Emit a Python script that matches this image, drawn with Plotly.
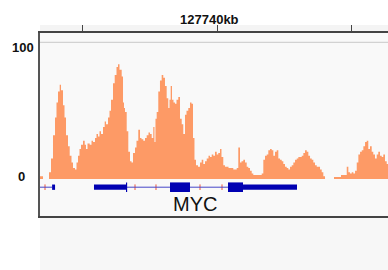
import plotly.graph_objects as go

# ---------------- data ----------------
# coverage track (genomic position in kb, read depth)
cov_pos_kb = [
    733.420, 733.532, 733.755, 733.829, 733.903, 733.978, 734.033, 734.089, 734.152, 734.201,
    734.275, 734.331, 734.387, 734.461, 734.524, 734.591, 734.647, 734.721, 734.777, 734.833,
    734.888, 734.944, 735.019, 735.082, 735.130, 735.186, 735.268, 735.335, 735.390, 735.465,
    735.520, 735.576, 735.632, 735.688, 735.762, 735.825, 735.874, 735.948, 736.004, 736.059,
    736.134, 736.197, 736.264, 736.320, 736.375, 736.457, 736.506, 736.543, 736.580, 736.643,
    736.703, 736.766, 736.821, 736.877, 736.952, 737.007, 737.074, 737.138, 737.193, 737.260,
    737.323, 737.386, 737.453, 737.509, 737.572, 737.631, 737.676, 737.713, 737.758, 737.817,
    737.880, 737.943, 738.003, 738.066, 738.129, 738.189, 738.234, 738.278, 738.327, 738.383,
    738.438, 738.494, 738.561, 738.625, 738.688, 738.747, 738.810, 738.866, 738.933, 738.996,
    739.052, 739.108, 739.163, 739.219, 739.293, 739.368, 739.431, 739.490, 739.554, 739.617,
    739.684, 739.740, 739.803, 739.862, 739.925, 739.989, 740.048, 740.112, 740.167, 740.234,
    740.297, 740.361, 740.428, 740.484, 740.547, 740.606, 740.669, 740.733, 740.792, 740.855,
    740.911, 740.978, 741.041, 741.104, 741.164, 741.227, 741.290, 741.350, 741.413, 741.476,
    741.536, 741.599, 741.662, 741.722, 741.785, 741.848, 741.908, 741.971, 742.034, 742.094,
    742.157, 742.220, 742.280, 742.343, 742.406, 742.466, 742.529, 742.592, 742.652, 742.715,
    742.778, 742.838, 742.901, 742.964, 743.024, 743.087, 743.150, 743.210, 743.273, 743.336,
    743.396, 743.459, 743.522, 743.581, 743.644, 743.708, 743.767, 743.830, 743.893, 743.953,
    744.016, 744.350, 744.610, 744.760, 744.823, 744.883, 744.946, 745.009, 745.069, 745.132,
    745.195, 745.255, 745.318, 745.381, 745.441, 745.504, 745.565, 745.625, 745.688, 745.751,
    745.810, 745.874, 745.937, 745.996, 746.060, 746.123, 746.182, 746.245, 746.309, 746.357,
]
cov_val = [
    2, 0, 5, 15, 32, 45, 56, 64, 69, 65,
    54, 45, 32, 24, 17, 12, 8, 7, 12, 17,
    22, 25, 28, 25, 22, 26, 25, 28, 27, 30,
    33, 31, 35, 33, 38, 42, 40, 45, 50, 58,
    70, 76, 82, 84, 80, 75, 56, 52, 49, 35,
    20, 13, 12, 19, 23, 28, 36, 30, 29, 28,
    30, 32, 34, 33, 30, 38, 27, 44, 49, 64,
    72, 76, 74, 68, 59, 52, 58, 68, 58, 56,
    55, 58, 60, 44, 40, 33, 47, 50, 52, 56,
    55, 30, 14, 10, 9, 12, 14, 11, 13, 15,
    17, 16, 18, 17, 20, 18, 19, 22, 16, 10,
    9, 9, 8, 8, 8, 7, 7, 8, 23, 12,
    13, 14, 12, 9, 8, 6, 4, 3, 3, 3,
    3, 3, 4, 14, 17, 18, 21, 22, 21, 17,
    20, 21, 15, 14, 13, 11, 9, 8, 7, 9,
    10, 12, 14, 15, 16, 16, 17, 19, 21, 20,
    17, 15, 14, 12, 10, 9, 9, 7, 5, 2,
    0, 1.5, 3, 3, 9, 5, 4, 5, 4, 6,
    12, 18, 20, 21, 24, 27, 28, 22, 24, 20,
    18, 15, 18, 20, 17, 16, 18, 13, 11, 9,
]
chrom_base_kb = 127000

# gene annotation (kb)
intron_start_kb = [127733.420, 127735.427]
intron_end_kb = [127733.870, 127742.974]
utr_start_kb = [127733.870, 127735.427, 127740.967]
utr_end_kb = [127733.980, 127736.617, 127742.974]
cds_start_kb = [127736.617, 127738.253, 127740.409]
cds_end_kb = [127736.660, 127738.996, 127740.967]
strand_mark_kb = [127733.606, 127736.952, 127737.732, 127739.368, 127740.186]
gene_name = "MYC"
gene_label_kb = 127739.18

ruler_ticks_kb = [127735, 127740, 127745]
ruler_label = "127740kb"
data_range_labels = ["100", "0"]

# ---------------- figure ----------------
x_range = [127733.420, 127746.357]
y_range = [-27.07, 106.8]
gene_y = -6.0
utr_half = 1.95
cds_half = 3.5

cov_color = "#fd9a66"
gene_color = "#0000b2"
intron_color = "#4646c8"

x_kb = [chrom_base_kb + p for p in cov_pos_kb]

fig = go.Figure()
fig.add_trace(go.Scatter(
    x=x_kb, y=cov_val, mode="lines", line=dict(width=0, shape="hv", color=cov_color),
    fill="tozeroy", fillcolor=cov_color, hoverinfo="skip", showlegend=False,
))

shapes = []
# background panels outside plot
shapes.append(dict(type="rect", xref="paper", yref="paper", x0=0, x1=1.02,
                   y0=-54 / 183, y1=0, fillcolor="#f7f7f7", line=dict(width=0), layer="below"))
shapes.append(dict(type="rect", xref="paper", yref="paper", x0=0, x1=1.02,
                   y0=1, y1=1 + 8 / 183, fillcolor="#f4f4f4", line=dict(width=0), layer="below"))
# data range top line
shapes.append(dict(type="line", xref="paper", yref="y", x0=0, x1=1, y0=100, y1=100,
                   line=dict(color="#c8c8c8", width=1)))
# introns
for a, b in zip(intron_start_kb, intron_end_kb):
    shapes.append(dict(type="line", xref="x", yref="y", x0=a, x1=b, y0=gene_y, y1=gene_y,
                       line=dict(color=intron_color, width=1)))
for a, b in zip(utr_start_kb, utr_end_kb):
    shapes.append(dict(type="rect", xref="x", yref="y", x0=a, x1=b,
                       y0=gene_y - utr_half, y1=gene_y + utr_half,
                       fillcolor=gene_color, line=dict(width=0)))
for a, b in zip(cds_start_kb, cds_end_kb):
    shapes.append(dict(type="rect", xref="x", yref="y", x0=a, x1=b,
                       y0=gene_y - cds_half, y1=gene_y + cds_half,
                       fillcolor=gene_color, line=dict(width=0)))

fig.add_trace(go.Scatter(
    x=strand_mark_kb, y=[gene_y] * len(strand_mark_kb), mode="markers",
    marker=dict(symbol="line-ns-open", size=4, line=dict(color=intron_color, width=1)),
    hoverinfo="skip", showlegend=False,
))

annotations = [
    dict(x=127740, y=1, xref="x", yref="paper", text=f"<b>{ruler_label}</b>", showarrow=False,
         xanchor="center", yanchor="middle", xshift=-7.5, yshift=13.5,
         font=dict(family="Liberation Sans, Arial", size=13, color="#111")),
    dict(x=0, y=100, xref="paper", yref="y", text=f"<b>{data_range_labels[0]}</b>", showarrow=False,
         xanchor="right", yanchor="middle", xshift=-4, yshift=-5,
         font=dict(family="Liberation Sans, Arial", size=13, color="#111")),
    dict(x=0, y=0, xref="paper", yref="y", text=f"<b>{data_range_labels[1]}</b>", showarrow=False,
         xanchor="center", yanchor="middle", xshift=-19, yshift=2.5,
         font=dict(family="Liberation Sans, Arial", size=13, color="#111")),
    dict(x=gene_label_kb, y=-18.6, xref="x", yref="y", text=gene_name, showarrow=False,
         xanchor="center", yanchor="middle",
         font=dict(family="Liberation Sans, Arial", size=20, color="#111")),
]

fig.update_layout(
    width=388, height=270,
    margin=dict(l=40, r=0, t=33, b=54, pad=0),
    paper_bgcolor="white", plot_bgcolor="#f9f9f9",
    shapes=shapes, annotations=annotations, showlegend=False,
    xaxis=dict(range=x_range, side="top", showgrid=False, zeroline=False,
               showline=True, linecolor="#444", linewidth=1.5, mirror=True,
               tickvals=ruler_ticks_kb, ticks="outside", ticklen=6, tickcolor="#444",
               tickwidth=1, showticklabels=False, fixedrange=True),
    yaxis=dict(range=y_range, showgrid=False, zeroline=False, showline=True,
               linecolor="#555", linewidth=1.5, showticklabels=False, ticks="",
               fixedrange=True),
)

fig.write_html("out.html", config={"displayModeBar": False},
               post_script="document.body.style.margin='0';document.body.style.overflow='hidden';")
